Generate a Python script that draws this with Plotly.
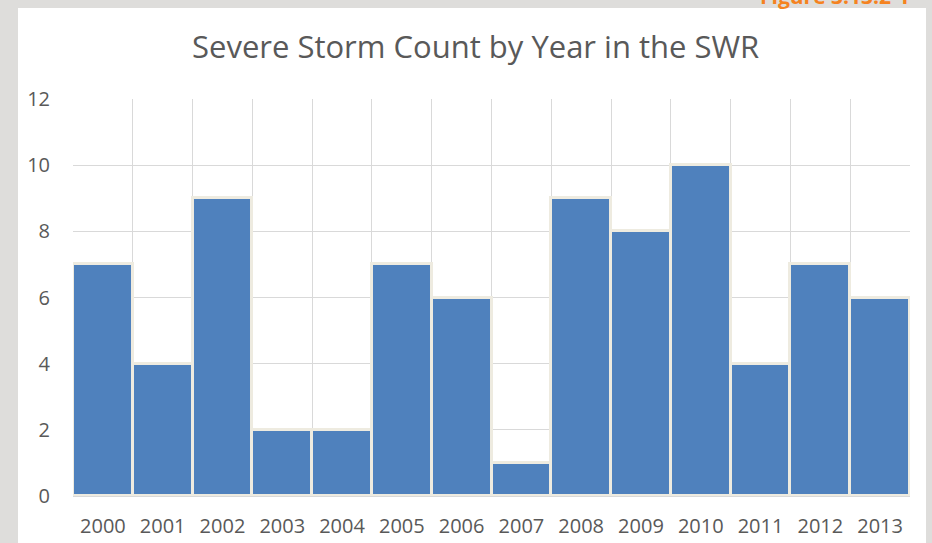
import plotly.graph_objects as go

years = ["2000", "2001", "2002", "2003", "2004", "2005", "2006",
         "2007", "2008", "2009", "2010", "2011", "2012", "2013"]
counts = [7, 4, 9, 2, 2, 7, 6, 1, 9, 8, 10, 4, 7, 6]
y_ticks = [0, 2, 4, 6, 8, 10, 12]

W, H = 932, 543
L, R, T, B = 73, 22, 99, 47
pw, ph = W - L - R, H - T - B

def px_x(x):
    return (x - L) / pw

def px_y(y):
    return (H - B - y) / ph

fig = go.Figure()
fig.add_trace(go.Bar(
    x=years, y=counts,
    marker=dict(color="#4F81BD", line=dict(color="#EEEBE0", width=3)),
    hoverinfo="x+y",
))

font_fam = "Open Sans, Liberation Sans, sans-serif"

fig.update_layout(
    width=W, height=H,
    margin=dict(l=L, r=R, t=T, b=B, pad=0),
    paper_bgcolor="#DEDDDB",
    plot_bgcolor="white",
    bargap=0,
    showlegend=False,
    font=dict(family=font_fam, color="#595959"),
    xaxis=dict(
        type="category",
        tickson="boundaries",
        automargin=False,
        showgrid=True, gridcolor="#D9D9D9", gridwidth=1,
        ticks="", showline=True, linecolor="#D9D9D9", linewidth=1,
        tickfont=dict(size=20, color="#595959"),
        ticklabelstandoff=12,
        mirror=False,
    ),
    yaxis=dict(
        range=[0, 12], tickvals=y_ticks,
        automargin=False,
        showgrid=True, gridcolor="#D9D9D9", gridwidth=1,
        zeroline=False, showline=False, ticks="",
        tickfont=dict(size=20, color="#595959"),
        ticklabelstandoff=22,
    ),
    shapes=[dict(
        type="rect", xref="paper", yref="paper", layer="below",
        x0=px_x(18), x1=px_x(926), y0=px_y(560), y1=px_y(8),
        fillcolor="white", line=dict(width=0),
    )],
    annotations=[
        dict(text="Severe Storm Count by Year in the SWR",
             xref="paper", yref="paper", x=px_x(475), y=px_y(46),
             xanchor="center", yanchor="middle", showarrow=False,
             font=dict(size=31, color="#595959", family=font_fam)),
        dict(text="<b>Figure 3.13.2-1</b>",
             xref="paper", yref="paper", x=px_x(912), y=px_y(12),
             xanchor="right", yanchor="bottom", showarrow=False,
             font=dict(size=21, color="#F58220", family=font_fam)),
    ],
)

fig.write_html("out.html", config={"displayModeBar": False},
               post_script="document.body.style.margin='0';")
